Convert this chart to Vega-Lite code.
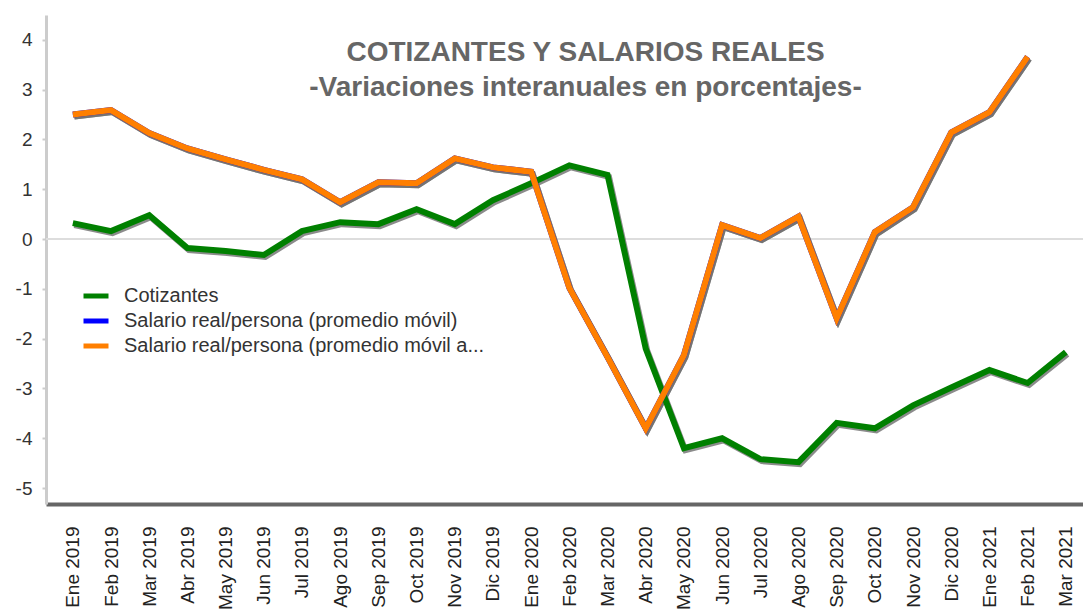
{
  "$schema": "https://vega.github.io/schema/vega-lite/v6.json",
  "autosize": "none",
  "width": 1037,
  "height": 489,
  "padding": {"left": 46, "top": 15, "right": 0, "bottom": 111},
  "background": "white",
  "config": {
    "font": "Liberation Sans",
    "view": {"stroke": null}
  },
  "title": {
    "text": ["COTIZANTES Y SALARIOS REALES", "-Variaciones interanuales en porcentajes-"],
    "font": "Liberation Sans",
    "fontSize": 28,
    "fontWeight": "bold",
    "color": "#666666",
    "anchor": "middle",
    "frame": "group",
    "orient": "top",
    "baseline": "top",
    "offset": -22,
    "dx": 21,
    "dy": 65,
    "lineHeight": 35
  },
  "datasets": {
    "series": [
      {"mes": "Ene 2019", "serie": "Cotizantes", "valor": 0.32},
      {"mes": "Feb 2019", "serie": "Cotizantes", "valor": 0.16},
      {"mes": "Mar 2019", "serie": "Cotizantes", "valor": 0.48},
      {"mes": "Abr 2019", "serie": "Cotizantes", "valor": -0.18},
      {"mes": "May 2019", "serie": "Cotizantes", "valor": -0.24},
      {"mes": "Jun 2019", "serie": "Cotizantes", "valor": -0.32},
      {"mes": "Jul 2019", "serie": "Cotizantes", "valor": 0.16},
      {"mes": "Ago 2019", "serie": "Cotizantes", "valor": 0.34},
      {"mes": "Sep 2019", "serie": "Cotizantes", "valor": 0.3},
      {"mes": "Oct 2019", "serie": "Cotizantes", "valor": 0.6},
      {"mes": "Nov 2019", "serie": "Cotizantes", "valor": 0.3},
      {"mes": "Dic 2019", "serie": "Cotizantes", "valor": 0.78},
      {"mes": "Ene 2020", "serie": "Cotizantes", "valor": 1.12},
      {"mes": "Feb 2020", "serie": "Cotizantes", "valor": 1.48},
      {"mes": "Mar 2020", "serie": "Cotizantes", "valor": 1.29},
      {"mes": "Abr 2020", "serie": "Cotizantes", "valor": -2.2},
      {"mes": "May 2020", "serie": "Cotizantes", "valor": -4.2},
      {"mes": "Jun 2020", "serie": "Cotizantes", "valor": -4.0},
      {"mes": "Jul 2020", "serie": "Cotizantes", "valor": -4.42},
      {"mes": "Ago 2020", "serie": "Cotizantes", "valor": -4.48},
      {"mes": "Sep 2020", "serie": "Cotizantes", "valor": -3.69},
      {"mes": "Oct 2020", "serie": "Cotizantes", "valor": -3.8},
      {"mes": "Nov 2020", "serie": "Cotizantes", "valor": -3.34},
      {"mes": "Dic 2020", "serie": "Cotizantes", "valor": -2.98},
      {"mes": "Ene 2021", "serie": "Cotizantes", "valor": -2.63},
      {"mes": "Feb 2021", "serie": "Cotizantes", "valor": -2.89},
      {"mes": "Mar 2021", "serie": "Cotizantes", "valor": -2.27},
      {"mes": "Ene 2019", "serie": "Salario real/persona (promedio móvil)", "valor": 2.5},
      {"mes": "Feb 2019", "serie": "Salario real/persona (promedio móvil)", "valor": 2.59},
      {"mes": "Mar 2019", "serie": "Salario real/persona (promedio móvil)", "valor": 2.13},
      {"mes": "Abr 2019", "serie": "Salario real/persona (promedio móvil)", "valor": 1.82},
      {"mes": "May 2019", "serie": "Salario real/persona (promedio móvil)", "valor": 1.6},
      {"mes": "Jun 2019", "serie": "Salario real/persona (promedio móvil)", "valor": 1.39},
      {"mes": "Jul 2019", "serie": "Salario real/persona (promedio móvil)", "valor": 1.2},
      {"mes": "Ago 2019", "serie": "Salario real/persona (promedio móvil)", "valor": 0.74},
      {"mes": "Sep 2019", "serie": "Salario real/persona (promedio móvil)", "valor": 1.14},
      {"mes": "Oct 2019", "serie": "Salario real/persona (promedio móvil)", "valor": 1.12},
      {"mes": "Nov 2019", "serie": "Salario real/persona (promedio móvil)", "valor": 1.62},
      {"mes": "Dic 2019", "serie": "Salario real/persona (promedio móvil)", "valor": 1.44},
      {"mes": "Ene 2020", "serie": "Salario real/persona (promedio móvil)", "valor": 1.35},
      {"mes": "Feb 2020", "serie": "Salario real/persona (promedio móvil)", "valor": -0.98},
      {"mes": "Mar 2020", "serie": "Salario real/persona (promedio móvil)", "valor": -2.37},
      {"mes": "Abr 2020", "serie": "Salario real/persona (promedio móvil)", "valor": -3.8},
      {"mes": "May 2020", "serie": "Salario real/persona (promedio móvil)", "valor": -2.33},
      {"mes": "Jun 2020", "serie": "Salario real/persona (promedio móvil)", "valor": 0.28},
      {"mes": "Jul 2020", "serie": "Salario real/persona (promedio móvil)", "valor": 0.02},
      {"mes": "Ago 2020", "serie": "Salario real/persona (promedio móvil)", "valor": 0.45},
      {"mes": "Sep 2020", "serie": "Salario real/persona (promedio móvil)", "valor": -1.59},
      {"mes": "Oct 2020", "serie": "Salario real/persona (promedio móvil)", "valor": 0.14},
      {"mes": "Nov 2020", "serie": "Salario real/persona (promedio móvil)", "valor": 0.64},
      {"mes": "Dic 2020", "serie": "Salario real/persona (promedio móvil)", "valor": 2.14},
      {"mes": "Ene 2021", "serie": "Salario real/persona (promedio móvil)", "valor": 2.55},
      {"mes": "Feb 2021", "serie": "Salario real/persona (promedio móvil)", "valor": 3.66},
      {"mes": "Ene 2019", "serie": "Salario real/persona (promedio móvil a...", "valor": 2.5},
      {"mes": "Feb 2019", "serie": "Salario real/persona (promedio móvil a...", "valor": 2.59},
      {"mes": "Mar 2019", "serie": "Salario real/persona (promedio móvil a...", "valor": 2.13},
      {"mes": "Abr 2019", "serie": "Salario real/persona (promedio móvil a...", "valor": 1.82},
      {"mes": "May 2019", "serie": "Salario real/persona (promedio móvil a...", "valor": 1.6},
      {"mes": "Jun 2019", "serie": "Salario real/persona (promedio móvil a...", "valor": 1.39},
      {"mes": "Jul 2019", "serie": "Salario real/persona (promedio móvil a...", "valor": 1.2},
      {"mes": "Ago 2019", "serie": "Salario real/persona (promedio móvil a...", "valor": 0.74},
      {"mes": "Sep 2019", "serie": "Salario real/persona (promedio móvil a...", "valor": 1.14},
      {"mes": "Oct 2019", "serie": "Salario real/persona (promedio móvil a...", "valor": 1.12},
      {"mes": "Nov 2019", "serie": "Salario real/persona (promedio móvil a...", "valor": 1.62},
      {"mes": "Dic 2019", "serie": "Salario real/persona (promedio móvil a...", "valor": 1.44},
      {"mes": "Ene 2020", "serie": "Salario real/persona (promedio móvil a...", "valor": 1.35},
      {"mes": "Feb 2020", "serie": "Salario real/persona (promedio móvil a...", "valor": -0.98},
      {"mes": "Mar 2020", "serie": "Salario real/persona (promedio móvil a...", "valor": -2.37},
      {"mes": "Abr 2020", "serie": "Salario real/persona (promedio móvil a...", "valor": -3.8},
      {"mes": "May 2020", "serie": "Salario real/persona (promedio móvil a...", "valor": -2.33},
      {"mes": "Jun 2020", "serie": "Salario real/persona (promedio móvil a...", "valor": 0.28},
      {"mes": "Jul 2020", "serie": "Salario real/persona (promedio móvil a...", "valor": 0.02},
      {"mes": "Ago 2020", "serie": "Salario real/persona (promedio móvil a...", "valor": 0.45},
      {"mes": "Sep 2020", "serie": "Salario real/persona (promedio móvil a...", "valor": -1.59},
      {"mes": "Oct 2020", "serie": "Salario real/persona (promedio móvil a...", "valor": 0.14},
      {"mes": "Nov 2020", "serie": "Salario real/persona (promedio móvil a...", "valor": 0.64},
      {"mes": "Dic 2020", "serie": "Salario real/persona (promedio móvil a...", "valor": 2.14},
      {"mes": "Ene 2021", "serie": "Salario real/persona (promedio móvil a...", "valor": 2.55},
      {"mes": "Feb 2021", "serie": "Salario real/persona (promedio móvil a...", "valor": 3.66}
    ]
  },
  "layer": [
    {
      "data": {"values": [{"cero": 0}]},
      "mark": {"type": "rule", "color": "#dddddd", "strokeWidth": 2},
      "encoding": {
        "y": {"field": "cero", "type": "quantitative", "scale": {"domain": [-5.32, 4.5], "nice": false, "zero": false}}
      }
    },
    {
      "data": {"name": "series"},
      "mark": {"type": "line", "strokeWidth": 6, "color": "#6e6e6e", "opacity": 0.8, "xOffset": 1.5, "yOffset": 2, "strokeJoin": "miter"},
      "encoding": {
        "x": {"field": "mes", "type": "ordinal", "sort": null},
        "y": {"field": "valor", "type": "quantitative"},
        "detail": {"field": "serie"}
      }
    },
    {
      "data": {"name": "series"},
      "mark": {"type": "line", "strokeWidth": 6, "strokeJoin": "miter"},
      "encoding": {
        "x": {
          "field": "mes",
          "type": "ordinal",
          "sort": null,
          "scale": {"type": "point", "padding": 0.576, "align": 0.61},
          "axis": {
            "title": null,
            "labelAngle": -90,
            "labelAlign": "right",
            "labelBaseline": "middle",
            "labelFontSize": 19,
            "labelColor": "#222222",
            "labelPadding": 22,
            "ticks": false,
            "domainColor": "#666666",
            "domainWidth": 4,
            "grid": false
          }
        },
        "y": {
          "field": "valor",
          "type": "quantitative",
          "axis": {
            "title": null,
            "values": [-5, -4, -3, -2, -1, 0, 1, 2, 3, 4],
            "labelExpr": "toString(datum.value)",
            "labelFontSize": 19,
            "labelColor": "#333333",
            "labelPadding": 10,
            "tickColor": "#cccccc",
            "tickSize": 4,
            "tickWidth": 2,
            "domainColor": "#cccccc",
            "domainWidth": 3,
            "grid": false
          }
        },
        "color": {
          "field": "serie",
          "type": "nominal",
          "sort": null,
          "scale": {
            "domain": ["Cotizantes", "Salario real/persona (promedio móvil)", "Salario real/persona (promedio móvil a..."],
            "range": ["#008000", "#0000ff", "#ff7f00"]
          },
          "legend": {
            "title": null,
            "orient": "none",
            "legendX": 35,
            "legendY": 266,
            "symbolType": "stroke",
            "symbolStrokeWidth": 5,
            "symbolSize": 625,
            "labelFontSize": 20,
            "labelColor": "#333333",
            "labelOffset": 13,
            "rowPadding": 0,
            "labelLimit": 500
          }
        }
      }
    }
  ]
}
